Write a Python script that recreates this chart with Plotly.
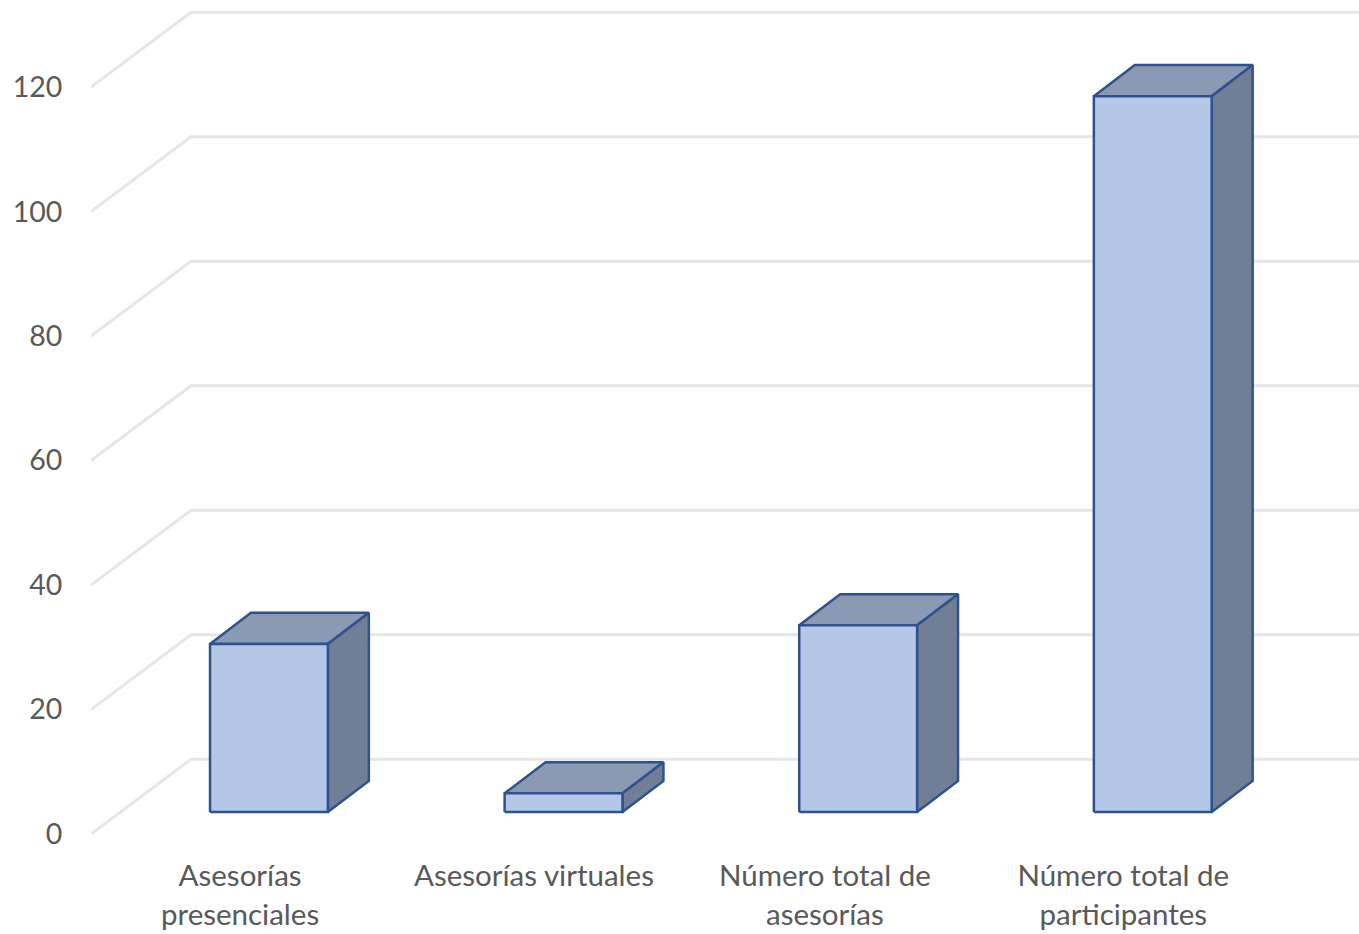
import plotly.graph_objects as go

categorias = ["Asesorías<br>presenciales", "Asesorías virtuales",
              "Número total de<br>asesorías", "Número total de<br>participantes"]
valores = [27, 3, 30, 115]
marcas_y = [0, 20, 40, 60, 80, 100, 120]

# donde caen las etiquetas respecto a cada barra (en unidades de categoria)
pos_etiquetas = [-0.098, 0.8995, 1.887, 2.90]

# perspectiva falsa del grafico 3D: x en categorias, y en unidades de valor
MEDIA_BARRA = 0.2
FONDO_X, FONDO_Y = 0.139, 5
BASE_Y = 3.53
PARED_X, PARED_Y = 0.3394, 12
X_MIN, X_MAX = -0.604, 3.70

FRENTE = "#B4C7E7"
ARRIBA = "#8A9AB2"
LADO = "#707F95"
BORDE = "#2F528F"
REJILLA = "#E6E6E6"
TEXTO = "#595959"

fig = go.Figure()

# rejilla: pared lateral y pared de fondo
rej_x, rej_y = [], []
for m in marcas_y:
    rej_x += [X_MIN, X_MIN + PARED_X, X_MAX, None]
    rej_y += [m, m + PARED_Y, m + PARED_Y, None]
fig.add_scatter(x=rej_x, y=rej_y, mode="lines", line=dict(color=REJILLA, width=3),
                hoverinfo="skip", showlegend=False)


def cara(xs, ys, color):
    fig.add_scatter(x=xs + xs[:1], y=ys + ys[:1], mode="lines", fill="toself", fillcolor=color,
                    line=dict(color=BORDE, width=2.5), hoverinfo="skip", showlegend=False)


for i, v in enumerate(valores):
    izq, der = i - MEDIA_BARRA, i + MEDIA_BARRA
    abajo, alto = BASE_Y, BASE_Y + v
    cara([izq, der, der + FONDO_X, izq + FONDO_X],
         [alto, alto, alto + FONDO_Y, alto + FONDO_Y], ARRIBA)
    cara([der, der + FONDO_X, der + FONDO_X, der],
         [abajo, abajo + FONDO_Y, alto + FONDO_Y, alto], LADO)
    cara([izq, der, der, izq], [abajo, abajo, alto, alto], FRENTE)

fig.update_layout(
    width=1359, height=934,
    margin=dict(l=0, r=0, t=0, b=0),
    paper_bgcolor="white", plot_bgcolor="white",
    font=dict(family="Lato", size=29.5, color=TEXTO),
    showlegend=False,
    xaxis=dict(domain=[91 / 1359, 1], range=[X_MIN, X_MAX], showgrid=False, zeroline=False,
               showline=False, tickmode="array", tickvals=pos_etiquetas, ticktext=categorias,
               ticks="outside", ticklen=16, tickcolor="rgba(0,0,0,0)", tickangle=0, automargin=False),
    yaxis=dict(domain=[100 / 934, 1], range=[0, 133.98], showgrid=False, zeroline=False,
               showline=False, tickmode="array", tickvals=marcas_y, tickfont=dict(size=28.5),
               ticks="outside", ticklen=22, tickcolor="rgba(0,0,0,0)", automargin=False),
)

# el navegador deja 8px de margen en el body; sin esto todo queda corrido
fig.write_html("out.html", post_script="document.body.style.margin='0';",
               config=dict(displayModeBar=False))
